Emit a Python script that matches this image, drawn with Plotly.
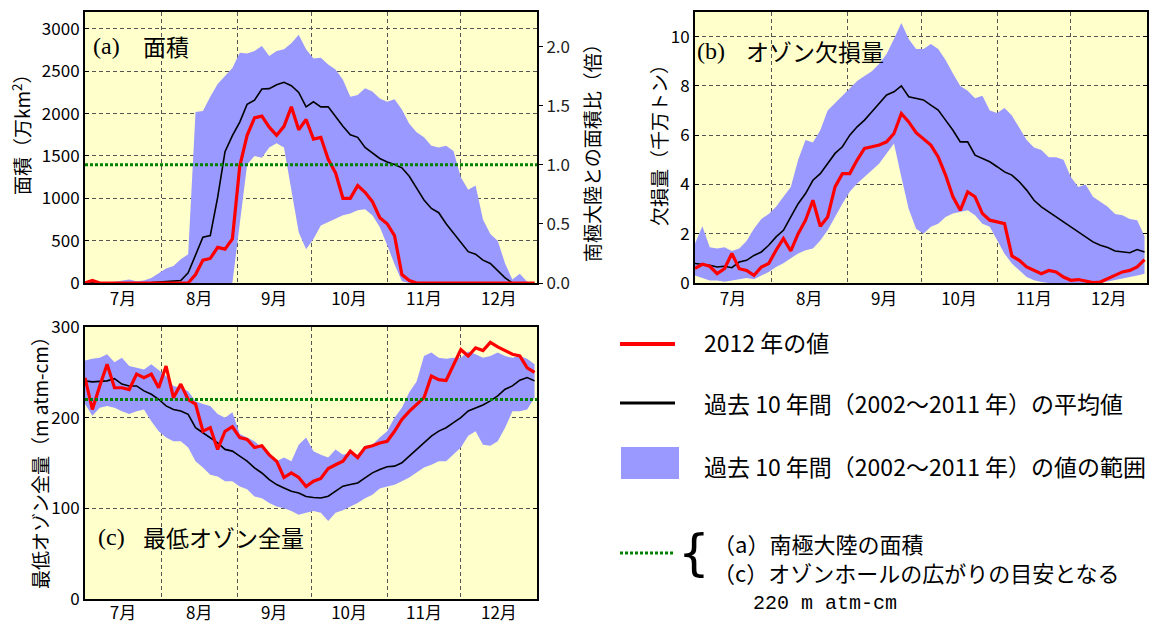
import plotly.graph_objects as go

W, H = 1160, 621
SANS = "Noto Sans CJK JP"
SERIF = "Liberation Serif"
MONO = "Liberation Mono"

# ---------------- data ----------------
# x: days since 1 July 2012 (0 = 7/1 ... 183 = 12/31), read every 3 days
DAYS = list(range(0, 184, 3))
MONTH_STARTS = [31, 62, 92, 123, 153]
MONTH_MIDS = [15.5, 46.5, 77, 107.5, 138, 168.5]
MONTH_LABELS = ["7月", "8月", "9月", "10月", "11月", "12月"]

# (a) ozone hole area [万km2]
A_2012 = [0, 30, 0, 0, 0, 0, 0, 0, 0, 0, 0, 0, 0, 0, 0,
          100, 270, 290, 420, 400, 520, 1380, 1744, 1950, 1970, 1840, 1744, 1850, 2080, 1810,
          1930, 1700, 1720, 1460, 1300, 1000, 1000, 1150, 1070, 960, 770, 700, 560, 100, 30,
          0, 0, 0, 0, 0, 0, 0, 0, 0, 0, 0, 0, 0, 0, 0, 0, 0]
A_MEAN = [0, 0, 0, 0, 0, 0, 0, 0, 0, 5, 10, 15, 20, 30, 120, 320, 540, 560, 1010, 1550,
          1740, 1900, 2110, 2160, 2290, 2295, 2340, 2370, 2330, 2250, 2080, 2140, 2080, 2080,
          1960, 1850, 1750, 1720, 1600, 1530, 1470, 1430, 1400, 1360, 1260, 1120, 980, 880,
          830, 700, 590, 480, 370, 340, 270, 230, 150, 60, 0, 0, 0, 0]
A_HI = [10, 10, 5, 10, 15, 30, 40, 20, 30, 60, 120, 170, 200, 280, 340,
        2020, 2030, 2200, 2350, 2450, 2540, 2720, 2710, 2740, 2800, 2680, 2740, 2760, 2830,
        2930, 2760, 2650, 2660, 2580, 2520, 2400, 2200, 2220, 2300, 2260, 2180, 2140, 2170,
        2050, 1880, 1780, 1720, 1620, 1600, 1620, 1560, 1250, 1100, 1150, 750, 580, 500,
        230, 40, 110, 15, 0]
A_LO = [0] * 21 + [700, 1400, 1500, 1480, 1600, 1650, 1600, 1100, 600, 400, 520, 680, 720,
                   760, 800, 820, 860, 870, 800, 660, 450, 220, 20] + [0] * 18
ANTARCTIC_AREA = 1395  # 万km2 -> ratio 1.0

# (b) ozone mass deficit [千万トン]
B_2012 = [0.6, 0.76, 0.68, 0.38, 0.58, 1.2, 0.58, 0.51, 0.31, 0.65, 0.79, 1.33, 1.8, 1.3,
          2.0, 2.55, 3.36, 2.3, 2.68, 3.9, 4.44, 4.44, 4.99, 5.46, 5.53, 5.6, 5.73, 6.07,
          6.88, 6.54, 6.1, 5.87, 5.6, 5.12, 4.38, 3.5, 2.95, 3.7, 3.5, 2.82, 2.55, 2.48,
          2.41, 1.1, 0.92, 0.65, 0.51, 0.38, 0.51, 0.45, 0.24, 0.11, 0.14, 0.08, 0.02, 0.04,
          0.18, 0.31, 0.45, 0.51, 0.65, 0.95]
B_MEAN = [0.79, 0.76, 0.72, 0.65, 0.68, 0.62, 0.85, 0.92, 1.12, 1.26, 1.53, 1.87, 2.14,
          2.68, 3.22, 3.63, 4.17, 4.44, 4.85, 5.26, 5.53, 6.0, 6.34, 6.61, 6.95, 7.29, 7.63,
          7.76, 8.0, 7.56, 7.5, 7.43, 7.22, 7.02, 6.61, 6.2, 5.73, 5.73, 5.19, 5.05, 4.92,
          4.72, 4.51, 4.38, 4.11, 3.77, 3.36, 3.09, 2.89, 2.68, 2.48, 2.28, 2.07, 1.87, 1.67,
          1.53, 1.44, 1.3, 1.26, 1.23, 1.36, 1.26]
B_HI = [1.6, 2.3, 1.45, 1.4, 1.45, 1.3, 1.4, 1.7, 2.2, 2.6, 2.8, 3.1, 3.5, 3.9, 5.0, 5.8,
        5.7, 6.2, 7.0, 7.3, 7.6, 7.9, 8.2, 8.4, 8.6, 8.9, 9.3, 9.9, 10.55, 9.9, 9.5, 9.5,
        9.7, 9.5, 9.05, 8.5, 8.0, 7.8, 7.5, 7.6, 7.0, 6.9, 7.1, 6.8, 6.3, 5.8, 5.5, 5.4,
        5.1, 5.1, 5.0, 4.3, 3.9, 4.0, 3.5, 3.3, 3.1, 2.8, 2.75, 2.6, 2.55, 1.9]
B_LO = [0.3, 0.2, 0.1, 0.1, 0.05, 0.1, 0.15, 0.2, 0.15, 0.3, 0.45, 0.65, 0.8, 1.0, 1.2,
        1.33, 1.4, 1.73, 2.14, 2.68, 3.22, 3.7, 4.04, 4.31, 4.58, 4.85, 5.26, 5.66, 4.3,
        3.0, 2.2, 2.0, 2.28, 2.41, 2.68, 2.82, 2.89, 2.95, 2.75, 2.41, 2.28, 1.73, 1.19,
        0.79, 0.51, 0.24, 0.11, 0.04, 0, 0, 0, 0, 0, 0, 0, 0, 0.05, 0.1, 0.18, 0.24, 0.3,
        0.38]

# (c) minimum total ozone [m atm-cm]
C_2012 = [244, 209, 235, 259, 233, 233, 231, 248, 244, 248, 233, 257, 222, 237, 220, 215,
          185, 189, 165, 185, 190, 178, 176, 167, 169, 159, 152, 134, 139, 134, 124, 130,
          133, 144, 148, 152, 163, 156, 167, 169, 172, 174, 185, 198, 207, 215, 222, 246,
          242, 241, 259, 275, 268, 277, 274, 283, 278, 274, 270, 268, 255, 250]
C_MEAN = [240.6, 239.5, 240, 240.6, 243, 237, 235, 235, 229.5, 225.8, 220.3, 213, 209,
          207.4, 203.7, 189, 183.4, 177.9, 172.3, 165, 163.1, 157.6, 152, 144.6, 139, 131.7,
          126.2, 122.5, 118.8, 117, 113, 112, 111.4, 113.3, 118.8, 124.4, 126.2, 128, 133.6,
          139.1, 142.8, 145.8, 146.5, 150.2, 157.6, 165, 173.4, 179.7, 185.2, 188.9, 194.5,
          200, 207.4, 210.3, 214, 218.5, 224, 231.4, 235, 241.3, 244.3, 240.6]
C_HI = [263, 265, 266, 270, 261, 266, 257, 255, 253, 259, 253, 246, 235, 233, 229, 218,
        215, 213, 204, 200, 206, 182, 178, 174, 167, 161, 152, 156, 152, 170, 178, 163, 159,
        156, 165, 159, 161, 159, 169, 170, 178, 185, 200, 211, 228, 240, 268, 272, 266, 265,
        266, 266, 273, 270, 266, 268, 272, 268, 266, 268, 265, 259]
C_LO = [215, 202, 211, 213, 211, 207, 204, 207, 209, 196, 185, 178, 174, 174, 167, 152,
        145, 137, 135, 130, 130, 124, 121, 113, 111, 106, 102, 100, 97, 93, 95, 97, 95, 86,
        95, 98, 102, 106, 111, 115, 122, 124, 126, 130, 134, 139, 145, 148, 152, 152, 159,
        167, 180, 185, 170, 169, 174, 189, 207, 207, 209, 222]
OZONE_HOLE_LEVEL = 220

# ---------------- styling ----------------
RED = "#FF0000"
BAND = "#9999FF"
BG = "#FFFFCC"
GREEN = "#008000"
GRID = "#555555"
GRIDDASH = "4px,3px"


def px_x(x):
    return x / W


def px_y(y):
    return 1 - y / H


def panel_traces(fig, xa, ya, lo, hi, mean, cur):
    fig.add_trace(go.Scatter(x=DAYS + DAYS[::-1], y=hi + lo[::-1], fill="toself",
                             fillcolor=BAND, line=dict(width=0), mode="lines",
                             hoverinfo="skip", showlegend=False, xaxis=xa, yaxis=ya))
    fig.add_trace(go.Scatter(x=DAYS, y=mean, mode="lines", line=dict(color="black", width=1.6),
                             showlegend=False, xaxis=xa, yaxis=ya))
    fig.add_trace(go.Scatter(x=DAYS, y=cur, mode="lines", line=dict(color=RED, width=3.2),
                             showlegend=False, xaxis=xa, yaxis=ya))


fig = go.Figure()
panel_traces(fig, "x", "y", A_LO, A_HI, A_MEAN, A_2012)
fig.add_trace(go.Scatter(x=[0, 184], y=[1.0, 1.0], mode="lines",
                         line=dict(color=GREEN, width=3, dash="3px,2px"),
                         showlegend=False, xaxis="x", yaxis="y4"))
panel_traces(fig, "x2", "y2", B_LO, B_HI, B_MEAN, B_2012)
panel_traces(fig, "x3", "y3", C_LO, C_HI, C_MEAN, C_2012)
fig.add_trace(go.Scatter(x=[0, 184], y=[OZONE_HOLE_LEVEL] * 2, mode="lines",
                         line=dict(color=GREEN, width=3, dash="3px,2px"),
                         showlegend=False, xaxis="x3", yaxis="y3"))

TICKFONT = dict(family=SANS, size=17, color="black")


def xaxis(domain, anchor):
    return dict(domain=domain, anchor=anchor, range=[0, 184], tickmode="array",
                tickvals=MONTH_MIDS, ticktext=MONTH_LABELS, showgrid=False, ticks="",
                showline=True, linewidth=2, linecolor="black", mirror=True, zeroline=False,
                tickfont=TICKFONT, automargin=False,
                minor=dict(tickmode="array", tickvals=MONTH_STARTS, showgrid=True,
                           gridcolor=GRID, griddash=GRIDDASH, gridwidth=1, ticks=""))


def yaxis(domain, anchor, rng, tickvals, mirror="ticks"):
    return dict(domain=domain, anchor=anchor, range=rng, tickmode="array", tickvals=tickvals,
                showgrid=True, gridcolor=GRID, griddash=GRIDDASH, gridwidth=1, showline=True,
                linewidth=2, linecolor="black", mirror=mirror, ticks="inside", ticklen=4,
                tickcolor="black", zeroline=False, tickfont=TICKFONT, automargin=False)


XA = [85 / W, 537 / W]
XB = [695 / W, 1147 / W]
YTOP = [1 - 283 / H, 1 - 12 / H]
YBOT = [1 - 599 / H, 1 - 327 / H]

x3 = xaxis(XA, "y3")
x3["ticklabelstandoff"] = -2

fig.update_layout(
    width=W, height=H, autosize=False,
    margin=dict(l=0, r=0, t=0, b=0, pad=0),
    paper_bgcolor="white", plot_bgcolor=BG,
    showlegend=False,
    xaxis=xaxis(XA, "y"),
    yaxis=yaxis(YTOP, "x", [0, 3200], [0, 500, 1000, 1500, 2000, 2500, 3000], mirror=True),
    yaxis4=dict(overlaying="y", side="right", anchor="x", range=[0, 3200 / ANTARCTIC_AREA],
                tickmode="array", tickvals=[0, 0.5, 1.0, 1.5, 2.0],
                ticktext=["0.0", "0.5", "1.0", "1.5", "2.0"], showgrid=False, zeroline=False,
                ticks="outside", ticklen=5, tickcolor="black", showline=False,
                automargin=False, tickfont=dict(family=SANS, size=17, color="#222")),
    xaxis2=xaxis(XB, "y2"),
    yaxis2=yaxis(YTOP, "x2", [0, 11], [0, 2, 4, 6, 8, 10]),
    xaxis3=x3,
    yaxis3=yaxis(YBOT, "x3", [0, 300], [0, 100, 200, 300]),
)


def ann(text, x, y, size, family=SANS, xanchor="left", angle=0, color="black"):
    return dict(text=text, x=px_x(x), y=px_y(y), xref="paper", yref="paper",
                xanchor=xanchor, yanchor="middle", showarrow=False, textangle=angle,
                align="left", font=dict(size=size, family=family, color=color),
                borderpad=0)


annotations = [
    # panel labels
    ann("(a)", 92, 46, 24, SERIF), ann("面積", 142, 46, 23),
    ann("(b)", 696, 51, 24, SERIF), ann("オゾン欠損量", 745, 51, 23),
    ann("(c)", 97, 537, 24, SERIF), ann("最低オゾン全量", 142, 537, 23),
    # axis titles
    ann("面積（万km<sup>2</sup>）", 21, 130, 19, xanchor="center", angle=-90),
    ann("南極大陸との面積比（倍）", 592, 148, 19, xanchor="center", angle=-90),
    ann("欠損量（千万トン）", 658, 141, 19, xanchor="center", angle=-90),
    ann("最低オゾン全量（m atm-cm）", 40, 458, 19, xanchor="center", angle=-90),
    # legend texts
    ann("2012 年の値", 703, 342, 23),
    ann("過去 10 年間（2002～2011 年）の平均値", 703, 403, 23),
    ann("過去 10 年間（2002～2011 年）の値の範囲", 703, 466, 23),
    ann("{", 694, 553, 50, "DejaVu Sans", xanchor="center"),
    ann("（a）南極大陸の面積<br>（c）オゾンホールの広がりの目安となる", 712, 557, 22),
    ann("220 m atm-cm", 752, 603, 20, MONO),
]

shapes = [
    dict(type="line", xref="paper", yref="paper", x0=px_x(620), x1=px_x(675),
         y0=px_y(344), y1=px_y(344), line=dict(color=RED, width=4)),
    dict(type="line", xref="paper", yref="paper", x0=px_x(620), x1=px_x(675),
         y0=px_y(403), y1=px_y(403), line=dict(color="black", width=3)),
    dict(type="rect", xref="paper", yref="paper", x0=px_x(621), x1=px_x(679),
         y0=px_y(479), y1=px_y(447), fillcolor=BAND, line=dict(width=0)),
    dict(type="line", xref="paper", yref="paper", x0=px_x(620), x1=px_x(675),
         y0=px_y(553), y1=px_y(553), line=dict(color=GREEN, width=3, dash="3px,2px")),
]

fig.update_layout(annotations=annotations, shapes=shapes)
fig.write_html(
    "out.html",
    config={"displayModeBar": False, "staticPlot": True},
    post_script="document.body.style.margin='0px';document.body.style.overflow='hidden';",
)
